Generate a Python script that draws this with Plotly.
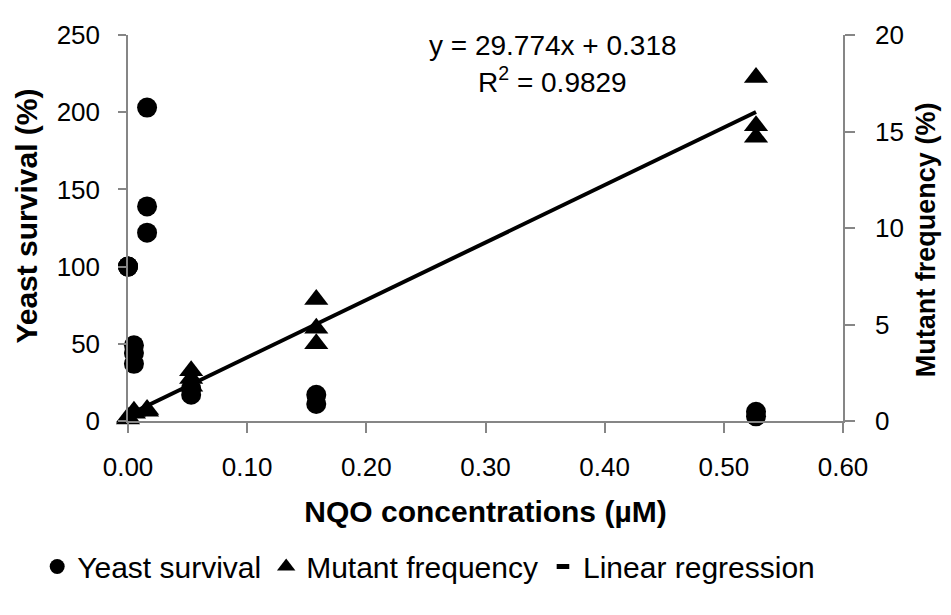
import plotly.graph_objects as go

# ---- data ----
surv_x = [0, 0, 0, 0.005, 0.005, 0.005, 0.016, 0.016, 0.016, 0.053, 0.053, 0.158, 0.158, 0.527, 0.527]
surv_y = [100, 100, 100, 49, 44, 37, 203, 139, 122, 21, 17, 17, 11, 6, 3]

mut_x = [0, 0, 0.005, 0.005, 0.016, 0.016, 0.053, 0.053, 0.053, 0.158, 0.158, 0.158, 0.527, 0.527, 0.527]
mut_y = [0.1, 0.2, 0.4, 0.5, 0.5, 0.6, 2.6, 2.2, 1.8, 6.3, 4.8, 4.0, 17.8, 15.3, 14.7]

reg_slope = 29.774
reg_intercept = 0.318
reg_r2 = 0.9829
reg_x = [0, 0.527]
reg_y = [reg_slope * v + reg_intercept for v in reg_x]

x_ticks = [0, 0.1, 0.2, 0.3, 0.4, 0.5, 0.6]
x_ticklabels = ["0.00", "0.10", "0.20", "0.30", "0.40", "0.50", "0.60"]
y1_ticks = [0, 50, 100, 150, 200, 250]
y2_ticks = [0, 5, 10, 15, 20]

FONT = "Liberation Sans, Arial, sans-serif"
AXC = "#868686"

fig = go.Figure()

fig.add_trace(go.Scatter(x=surv_x, y=surv_y, mode="markers", name="Yeast survival",
                         marker=dict(symbol="circle", size=20, color="black"),
                         cliponaxis=False, showlegend=False))
fig.add_trace(go.Scatter(x=mut_x, y=mut_y, mode="markers", name="Mutant frequency",
                         marker=dict(symbol="triangle-up", size=21, color="black"),
                         yaxis="y2", cliponaxis=False, showlegend=False))
fig.add_trace(go.Scatter(x=reg_x, y=reg_y, mode="lines", name="Linear regression",
                         line=dict(color="black", width=4), yaxis="y2", showlegend=False))

# legend entries
fig.add_trace(go.Scatter(x=[None], y=[None], mode="markers", name="Yeast survival",
                         marker=dict(symbol="circle", size=15, color="black")))
fig.add_trace(go.Scatter(x=[None], y=[None], mode="markers", name="Mutant frequency",
                         marker=dict(symbol="triangle-up", size=16, color="black")))
fig.add_trace(go.Scatter(x=[None], y=[None], mode="markers", name="Linear regression",
                         marker=dict(symbol="line-ew", size=9, color="black",
                                     line=dict(color="black", width=5))))

fig.update_layout(
    width=935, height=599,
    margin=dict(l=120, r=100, t=18, b=186),
    paper_bgcolor="white", plot_bgcolor="white",
    font=dict(family=FONT, size=26, color="black"),
    xaxis=dict(range=[0, 0.6], tickvals=x_ticks, ticktext=x_ticklabels,
               showgrid=False, zeroline=False, showline=True, linecolor=AXC, linewidth=1.5,
               ticks="outside", ticklen=10, tickcolor=AXC, tickwidth=1.5,
               ticklabelstandoff=12,
               title=dict(text="<b>NQO concentrations (µM)</b>", font=dict(size=30), standoff=20)),
    yaxis=dict(range=[0, 250], tickvals=y1_ticks,
               showgrid=False, zeroline=False, showline=True, linecolor=AXC, linewidth=1.5,
               ticks="outside", ticklen=8, tickcolor=AXC, tickwidth=1.5,
               ticklabelstandoff=13),
    yaxis2=dict(range=[0, 20], tickvals=y2_ticks, overlaying="y", side="right", anchor="x",
                showgrid=False, zeroline=False, showline=True, linecolor=AXC, linewidth=1.5,
                ticks="outside", ticklen=10, tickcolor=AXC, tickwidth=1.5,
                ticklabelstandoff=15),
    yaxis3=dict(range=[0, 20], tickvals=y2_ticks, overlaying="y", side="right", anchor="x",
                showgrid=False, zeroline=False, showline=False, showticklabels=False,
                ticks="inside", ticklen=10, tickcolor=AXC, tickwidth=1.5),
    legend=dict(orientation="h", x=-0.127, xanchor="left", y=-0.377, yanchor="middle",
                font=dict(size=30), itemsizing="trace", bgcolor="rgba(0,0,0,0)"),
    showlegend=True,
)

fig.add_annotation(text="<b>Yeast survival (%)</b>", textangle=-90, xref="paper", yref="paper",
                   x=-0.1413, y=0.532, xanchor="center", yanchor="middle", showarrow=False,
                   font=dict(size=30))
fig.add_annotation(text="<b>Mutant frequency (%)</b>", textangle=-90, xref="paper", yref="paper",
                   x=1.116, y=0.471, xanchor="center", yanchor="middle", showarrow=False,
                   font=dict(size=27))
fig.add_annotation(text=f"y = {reg_slope}x + {reg_intercept}", xref="paper", yref="paper",
                   x=0.594, y=0.973, xanchor="center", yanchor="middle", showarrow=False,
                   font=dict(size=28))
fig.add_annotation(text=f"R<sup>2</sup> = {reg_r2}", xref="paper", yref="paper",
                   x=0.594, y=0.883, xanchor="center", yanchor="middle", showarrow=False,
                   font=dict(size=28))

fig.write_html("out.html")
